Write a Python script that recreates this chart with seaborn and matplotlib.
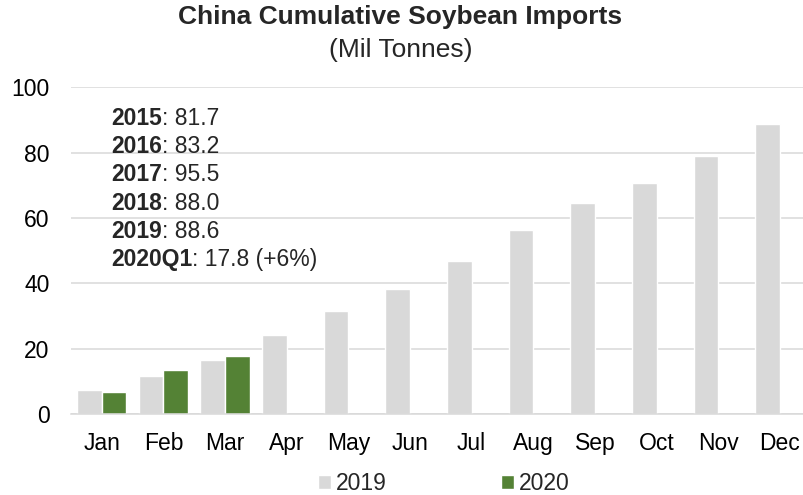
import pandas as pd
import matplotlib.pyplot as plt
import seaborn as sns

# ----------------------------------------------------------
# Dati
# ----------------------------------------------------------
months = ["Jan", "Feb", "Mar", "Apr", "May", "Jun",
          "Jul", "Aug", "Sep", "Oct", "Nov", "Dec"]
vals_2019 = [7.3, 11.7, 16.7, 24.3, 31.7, 38.2, 46.9, 56.4, 64.6, 70.7, 79.0, 88.6]
vals_2020 = [6.7, 13.4, 17.8]

note_years = ["2015", "2016", "2017", "2018", "2019", "2020Q1"]
note_values = [": 81.7", ": 83.2", ": 95.5", ": 88.0", ": 88.6", ": 17.8 (+6%)"]

colors = {"2019": "#D9D9D9", "2020": "#548235"}

df = pd.concat([
    pd.DataFrame({"month": months, "value": vals_2019, "year": "2019"}),
    pd.DataFrame({"month": months[:len(vals_2020)], "value": vals_2020, "year": "2020"}),
])

# ----------------------------------------------------------
# Grafico
# ----------------------------------------------------------
sns.set_style("white")
plt.rcParams["font.family"] = ["Liberation Sans", "DejaVu Sans"]

fig = plt.figure(figsize=(8.04, 4.95), dpi=100)
# l'area del grafico sborda leggermente a destra (come nell'originale)
ax = fig.add_axes([0.0883, 0.163, 0.920, 0.661])

sns.barplot(data=df, x="month", y="value", hue="year", order=months,
            hue_order=["2019", "2020"], palette=colors, width=0.8,
            saturation=1, ax=ax, legend=True)

ax.set_ylim(0, 100)
ax.set_xlim(-0.5, 11.5)
ax.set_yticks(range(0, 101, 20))
ax.yaxis.grid(True, color="#D9D9D9", linewidth=1.1)
ax.set_axisbelow(True)
for side in ["top", "right", "left"]:
    ax.spines[side].set_visible(False)
ax.spines["bottom"].set_color("#D9D9D9")
ax.spines["bottom"].set_linewidth(1.1)
ax.tick_params(axis="both", length=0, labelsize=16.5, colors="black")
ax.tick_params(axis="y", pad=15.5)
ax.tick_params(axis="x", pad=12.5)
ax.set_xlabel("")
ax.set_ylabel("")

# titolo
fig.text(0.498, 0.966, "China Cumulative Soybean Imports", ha="center",
         va="center", fontsize=19, fontweight="bold")
fig.text(0.498, 0.899, "(Mil Tonnes)", ha="center", va="center", fontsize=19)

# note con anno in grassetto
y0 = 0.905
for i, (yr, val) in enumerate(zip(note_years, note_values)):
    t = ax.text(0.054, y0 - i * 0.0865, yr, transform=ax.transAxes,
                fontsize=16.5, fontweight="bold", va="center", ha="left")
    ax.annotate(val, xy=(1, 0.5), xycoords=t, va="center", ha="left",
                fontsize=16.5)

# legenda
handles, labels = ax.get_legend_handles_labels()
ax.legend(handles, labels, loc="center", bbox_to_anchor=(0.552, 0.023),
          bbox_transform=fig.transFigure, ncol=2, frameon=False,
          fontsize=16.5, handlelength=0.57, handleheight=0.57,
          columnspacing=5.0, handletextpad=0.2, borderpad=0, borderaxespad=0)

fig.savefig("out.png", dpi=100)
